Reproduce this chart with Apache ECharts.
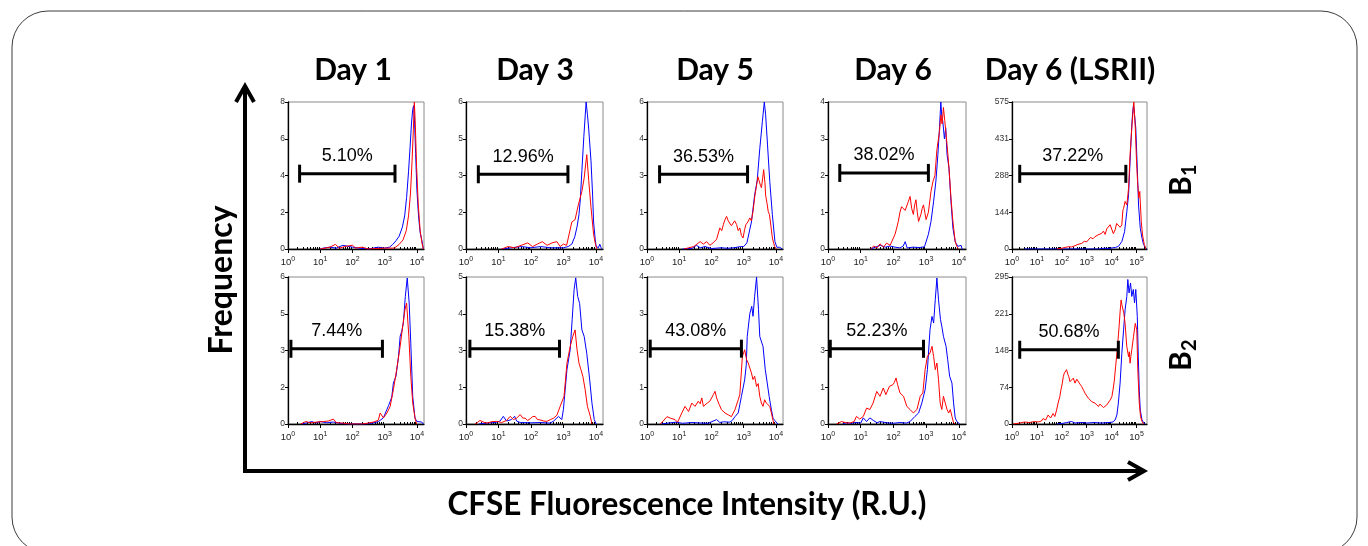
<!DOCTYPE html>
<html>
<head>
<meta charset="utf-8">
<script src="https://cdn.jsdelivr.net/npm/echarts@6/dist/echarts.min.js"></script>
<style>
html,body{margin:0;padding:0;background:#fff;}
#chart{width:1368px;height:546px;}
</style>
</head>
<body>
<div id="chart"></div>
<script>
// ---------------- DATA ----------------
const dayTitles = ['Day 1', 'Day 3', 'Day 5', 'Day 6', 'Day 6 (LSRII)'];
const rowSubscripts = ['1', '2'];
const xMaxDecades = [4.22, 4.22, 4.22, 4.22, 5.42];   // log10 of axis max
const xDecadeTicks4 = [0, 1, 2, 3, 4];
const xDecadeTicks5 = [0, 1, 2, 3, 4, 5];

const yMaxB1 = [8, 6, 6, 4, 575];
const yMaxB2 = [6, 5, 4, 6, 295];
const yLabelsB1 = [['0','2','4','6','8'], ['0','2','3','5','6'], ['0','1','3','4','6'], ['0','1','2','3','4'], ['0','144','288','431','575']];
const yLabelsB2 = [['0','2','3','5','6'], ['0','1','3','4','5'], ['0','1','2','3','4'], ['0','1','3','4','6'], ['0','74','148','221','295']];

const pctB1 = ['5.10%', '12.96%', '36.53%', '38.02%', '37.22%'];
const pctB2 = ['7.44%', '15.38%', '43.08%', '52.23%', '50.68%'];
// gate: [start decade, end decade, height]
const gateB1 = [[0.36, 3.32, 4.1], [0.38, 3.14, 3.05], [0.39, 3.12, 3.05], [0.36, 3.07, 2.07], [0.31, 4.57, 294]];
const gateB2 = [[0.09, 2.93, 3.07], [0.12, 2.88, 2.56], [0.10, 2.93, 2.05], [0.07, 2.92, 3.07], [0.31, 4.27, 149]];

// histograms: [log10 CFSE intensity, count]
const day1B1Blue = [[1.0,0],[1.1,0.05],[1.3,0.1],[1.5,0.05],[1.7,0.2],[1.85,0.15],[2.0,0.1],[2.2,0.05],[2.5,0],[2.8,0.1],[3.0,0.05],[3.15,0.1],[3.25,0.25],[3.35,0.45],[3.45,0.7],[3.55,1.2],[3.62,1.8],[3.68,2.8],[3.74,4.2],[3.79,5.6],[3.83,6.8],[3.87,7.6],[3.9,7.8],[3.93,6.8],[3.96,5.2],[4.0,3.2],[4.05,1.8],[4.1,0.9],[4.15,0.5],[4.2,0]];
const day1B1Red = [[1.0,0],[1.15,0.05],[1.3,0.1],[1.47,0.25],[1.6,0.05],[1.8,0.15],[2.0,0.2],[2.1,0.05],[2.3,0.1],[2.5,0],[3.0,0.05],[3.3,0.05],[3.45,0.25],[3.57,0.5],[3.67,1.0],[3.74,1.8],[3.8,3.0],[3.85,4.8],[3.89,6.5],[3.92,8.0],[3.95,6.8],[3.99,4.5],[4.04,2.5],[4.1,1.0],[4.16,0.3],[4.2,0]];

const day3B1Blue = [[1.1,0],[1.4,0.05],[1.7,0.1],[2.0,0.05],[2.3,0.1],[2.6,0.05],[3.0,0.05],[3.15,0.1],[3.26,0.2],[3.35,0.5],[3.42,0.9],[3.48,1.4],[3.52,2.0],[3.57,3.2],[3.63,4.6],[3.7,6.0],[3.74,5.5],[3.78,4.9],[3.85,3.6],[3.9,2.2],[3.93,1.1],[3.98,0.4],[4.01,0.1],[4.08,0.05],[4.12,0.2],[4.16,0.05],[4.2,0]];
const day3B1Red = [[1.1,0],[1.3,0.1],[1.5,0.05],[1.7,0.15],[1.9,0.25],[2.05,0.1],[2.2,0.2],[2.35,0.3],[2.5,0.15],[2.65,0.25],[2.8,0.3],[2.9,0.1],[3.0,0.2],[3.1,0.15],[3.16,0.2],[3.26,1.1],[3.36,1.2],[3.46,1.8],[3.57,2.35],[3.64,2.9],[3.72,3.85],[3.78,2.8],[3.85,1.7],[3.93,0.6],[3.99,0.18],[4.03,0]];

const day5B1Blue = [[1.1,0],[1.4,0.03],[1.54,0.15],[1.65,0.05],[1.8,0.1],[2.0,0.02],[2.3,0.05],[2.5,0.03],[2.7,0.05],[2.9,0.1],[3.0,0.1],[3.1,0.25],[3.14,0.3],[3.24,1.1],[3.34,2.2],[3.42,2.8],[3.5,4.1],[3.58,5.2],[3.64,6.0],[3.68,5.5],[3.74,4.25],[3.81,2.75],[3.89,1.4],[3.97,0.3],[4.03,0.07],[4.12,0.07],[4.2,0]];
const day5B1Red = [[1.15,0],[1.3,0.05],[1.45,0.1],[1.55,0.2],[1.65,0.3],[1.75,0.2],[1.85,0.3],[1.95,0.15],[2.05,0.25],[2.16,0.4],[2.26,0.86],[2.32,0.75],[2.37,1.0],[2.42,1.2],[2.47,1.33],[2.52,1.15],[2.57,1.2],[2.62,0.95],[2.67,0.9],[2.72,1.15],[2.78,1.0],[2.83,0.75],[2.88,0.86],[2.93,0.55],[2.98,0.45],[3.03,0.8],[3.07,1.0],[3.13,1.1],[3.19,1.27],[3.24,1.15],[3.29,1.54],[3.35,2.2],[3.4,2.6],[3.44,2.95],[3.48,2.9],[3.52,2.6],[3.55,2.5],[3.59,2.9],[3.62,3.24],[3.66,2.7],[3.68,2.2],[3.72,1.9],[3.76,1.54],[3.8,1.4],[3.83,1.1],[3.89,0.45],[3.96,0.1],[4.01,0]];

const day6B1Blue = [[1.3,0],[1.45,0.05],[1.6,0.1],[1.75,0.05],[1.9,0.08],[2.05,0.05],[2.2,0.03],[2.3,0.08],[2.36,0.2],[2.42,0.03],[2.6,0.05],[2.8,0.04],[2.95,0.06],[3.0,0.05],[3.07,0.4],[3.15,0.75],[3.23,1.3],[3.3,1.85],[3.36,2.57],[3.41,3.3],[3.45,4.0],[3.48,3.6],[3.51,3.48],[3.56,3.0],[3.6,3.3],[3.64,2.57],[3.7,2.2],[3.76,1.3],[3.82,0.57],[3.89,0.2],[3.97,0.07],[4.03,0.03],[4.07,0.1],[4.1,0]];
const day6B1Red = [[1.3,0],[1.4,0.08],[1.5,0.03],[1.59,0.14],[1.7,0.05],[1.79,0.16],[1.9,0.1],[2.0,0.3],[2.05,0.4],[2.1,0.57],[2.15,0.75],[2.2,1.0],[2.25,1.15],[2.31,1.2],[2.36,1.05],[2.41,1.1],[2.46,1.3],[2.51,1.43],[2.56,1.1],[2.61,0.94],[2.65,1.2],[2.69,1.34],[2.73,1.0],[2.77,0.75],[2.84,0.94],[2.88,1.1],[2.92,1.2],[2.96,1.0],[3.0,0.8],[3.07,1.0],[3.15,1.57],[3.21,1.84],[3.27,2.0],[3.33,2.7],[3.41,3.2],[3.45,3.65],[3.49,3.4],[3.53,3.85],[3.57,3.5],[3.64,2.84],[3.7,2.2],[3.76,1.39],[3.82,0.75],[3.89,0.2],[3.94,0.07],[3.99,0]];

const lsrB1Blue = [[0.5,0],[0.55,2],[0.6,0],[3.5,0],[3.7,3],[3.9,2],[4.05,5],[4.15,6],[4.27,10],[4.41,29],[4.52,68],[4.61,146],[4.68,212],[4.74,342],[4.81,486],[4.85,540],[4.88,565],[4.92,525],[4.97,473],[5.03,316],[5.08,172],[5.15,81],[5.22,42],[5.28,18],[5.35,6],[5.42,0]];
const lsrB1Red = [[1.8,0],[2.0,3],[2.26,9],[2.4,8],[2.53,13],[2.65,18],[2.8,22],[2.9,30],[3.0,28],[3.06,35],[3.15,45],[3.25,40],[3.33,48],[3.45,55],[3.52,50],[3.6,61],[3.67,70],[3.74,57],[3.8,78],[3.87,75],[3.94,95],[4.01,88],[4.07,60],[4.14,75],[4.2,100],[4.27,107],[4.34,85],[4.41,94],[4.45,150],[4.48,159],[4.54,186],[4.61,172],[4.68,238],[4.74,369],[4.81,473],[4.86,540],[4.89,575],[4.95,473],[5.0,342],[5.04,264],[5.09,199],[5.13,225],[5.19,107],[5.24,55],[5.31,18],[5.38,0]];

const day1B2Blue = [[0.4,0],[0.45,0.07],[0.6,0.05],[0.74,0.1],[0.85,0.04],[1.0,0.1],[1.2,0.05],[1.4,0.08],[1.62,0.03],[1.8,0],[2.4,0],[2.45,0.05],[2.6,0.03],[2.81,0.1],[2.96,0.25],[3.07,0.6],[3.12,0.75],[3.17,0.8],[3.22,1.1],[3.27,1.67],[3.35,1.95],[3.43,2.76],[3.48,3.58],[3.53,3.78],[3.58,4.12],[3.64,5.2],[3.7,5.96],[3.76,4.94],[3.81,3.3],[3.87,1.13],[3.94,0.25],[4.0,0.1],[4.05,0.08],[4.15,0.08],[4.2,0]];
const day1B2Red = [[0.4,0],[0.55,0.1],[0.7,0.05],[0.9,0.08],[1.1,0.1],[1.25,0.12],[1.41,0.2],[1.5,0.05],[1.7,0.04],[1.9,0],[2.3,0],[2.34,0.07],[2.5,0.04],[2.65,0.08],[2.8,0.15],[2.86,0.45],[2.96,0.25],[3.07,0.45],[3.17,0.72],[3.27,1.4],[3.37,2.2],[3.48,3.17],[3.56,4.0],[3.63,4.67],[3.68,4.94],[3.75,3.58],[3.81,1.95],[3.87,0.86],[3.94,0.25],[3.99,0]];

const day3B2Blue = [[0.4,0],[0.6,0.03],[0.9,0.05],[1.05,0.1],[1.15,0.26],[1.25,0.1],[1.4,0.15],[1.5,0.26],[1.56,0.1],[1.67,0.05],[2.0,0.04],[2.3,0.05],[2.59,0.03],[2.7,0.1],[2.85,0.26],[2.95,0.15],[3.0,0.49],[3.11,1.85],[3.21,2.53],[3.27,3.55],[3.33,4.57],[3.38,4.97],[3.44,4.34],[3.5,4.1],[3.57,3.2],[3.64,2.98],[3.72,2.4],[3.81,1.5],[3.88,0.71],[3.95,0.15],[4.01,0]];
const day3B2Red = [[0.28,0],[0.35,0.05],[0.43,0.12],[0.55,0.06],[0.64,0.03],[0.8,0.08],[0.95,0.09],[1.1,0.05],[1.25,0.12],[1.36,0.26],[1.46,0.15],[1.56,0.2],[1.67,0.32],[1.75,0.2],[1.82,0.2],[1.9,0.12],[1.98,0.18],[2.05,0.25],[2.13,0.26],[2.2,0.15],[2.28,0.14],[2.4,0.1],[2.49,0.09],[2.6,0.15],[2.7,0.2],[2.8,0.3],[2.9,0.6],[3.02,0.94],[3.11,2.07],[3.21,2.64],[3.29,2.98],[3.36,3.2],[3.42,2.53],[3.48,2.07],[3.54,1.85],[3.6,1.62],[3.67,1.17],[3.74,0.6],[3.83,0.26],[3.88,0]];

const day5B2Blue = [[0.45,0],[0.5,0.05],[0.7,0.03],[0.9,0.05],[1.1,0.02],[1.4,0.04],[1.6,0.03],[1.9,0.02],[2.16,0.12],[2.26,0.04],[2.37,0.06],[2.57,0.05],[2.65,0.1],[2.73,0.2],[2.83,0.3],[2.93,0.75],[3.03,1.2],[3.08,1.6],[3.11,2.38],[3.19,3.0],[3.25,3.2],[3.29,2.93],[3.34,3.47],[3.4,4.0],[3.46,3.11],[3.5,2.38],[3.55,2.43],[3.6,2.11],[3.67,1.48],[3.73,1.12],[3.79,0.75],[3.86,0.39],[3.91,0.16],[3.96,0.1],[4.01,0.1],[4.06,0]];
const day5B2Red = [[0.41,0],[0.5,0.08],[0.62,0.2],[0.72,0.16],[0.87,0.12],[0.95,0.05],[1.08,0.3],[1.18,0.48],[1.29,0.34],[1.39,0.57],[1.49,0.48],[1.59,0.62],[1.65,0.55],[1.7,0.71],[1.75,0.48],[1.87,0.57],[1.95,0.62],[2.06,0.8],[2.11,0.89],[2.16,0.71],[2.24,0.53],[2.31,0.39],[2.42,0.3],[2.52,0.25],[2.62,0.2],[2.73,0.39],[2.83,0.66],[2.88,0.8],[2.96,1.84],[3.03,2.02],[3.09,1.75],[3.14,1.66],[3.19,1.66],[3.24,1.39],[3.29,1.21],[3.34,1.3],[3.4,1.02],[3.45,1.1],[3.5,0.75],[3.55,0.57],[3.6,0.48],[3.65,0.66],[3.7,0.57],[3.76,0.53],[3.81,0.48],[3.86,0.3],[3.91,0.1],[3.94,0]];

const day6B2Blue = [[0.45,0],[0.55,0.05],[0.7,0.03],[0.85,0.06],[1.0,0.04],[1.08,0.25],[1.18,0.1],[1.28,0.25],[1.38,0.15],[1.5,0.05],[1.59,0.1],[1.8,0.05],[2.0,0.03],[2.2,0.06],[2.4,0.04],[2.51,0.1],[2.66,0.31],[2.77,0.45],[2.87,0.86],[2.97,1.4],[3.04,2.22],[3.12,3.85],[3.18,4.39],[3.23,4.12],[3.28,5.07],[3.33,5.96],[3.38,5.07],[3.44,4.26],[3.48,3.99],[3.53,3.58],[3.61,3.17],[3.66,2.63],[3.72,1.95],[3.79,1.67],[3.84,0.86],[3.89,0.25],[3.94,0.1],[4.03,0]];
const day6B2Red = [[0.26,0],[0.41,0.1],[0.55,0.05],[0.67,0.04],[0.8,0.1],[0.87,0.31],[0.97,0.2],[1.08,0.31],[1.18,0.65],[1.28,0.59],[1.38,0.86],[1.49,1.33],[1.59,1.13],[1.69,1.47],[1.77,1.2],[1.88,1.54],[1.98,1.6],[2.03,1.7],[2.08,1.88],[2.13,1.6],[2.2,1.27],[2.31,1.13],[2.41,0.72],[2.51,0.59],[2.61,0.45],[2.72,0.59],[2.82,1.13],[2.9,1.27],[2.97,2.22],[3.04,2.76],[3.12,2.9],[3.18,3.17],[3.23,2.76],[3.28,2.22],[3.33,2.49],[3.38,1.81],[3.43,0.86],[3.48,0.59],[3.53,1.13],[3.59,1.13],[3.64,0.59],[3.69,0.45],[3.74,0.59],[3.79,0.31],[3.84,0.05],[3.89,0]];

const lsrB2Blue = [[1.8,0],[2.0,1],[2.2,3],[2.39,5],[2.53,2],[2.8,3],[3.0,2],[3.3,3],[3.6,2],[3.9,3],[4.05,4],[4.14,8],[4.21,18],[4.27,42],[4.34,82],[4.41,142],[4.48,189],[4.54,229],[4.61,256],[4.65,290],[4.7,263],[4.76,283],[4.81,256],[4.87,270],[4.92,243],[4.97,270],[5.03,216],[5.07,135],[5.11,68],[5.15,28],[5.22,8],[5.28,3],[5.35,0]];
const lsrB2Red = [[0.05,0],[0.1,3],[0.3,2],[0.5,4],[0.7,3],[0.9,5],[1.05,4],[1.18,6],[1.25,11],[1.35,8],[1.45,18],[1.55,12],[1.65,21],[1.72,15],[1.79,28],[1.85,42],[1.92,55],[1.97,70],[2.02,82],[2.06,95],[2.1,102],[2.15,98],[2.19,109],[2.24,100],[2.28,95],[2.33,85],[2.39,88],[2.46,92],[2.53,82],[2.6,90],[2.66,88],[2.73,80],[2.8,75],[2.87,68],[2.93,62],[3.0,58],[3.06,52],[3.13,50],[3.2,45],[3.27,48],[3.33,42],[3.4,38],[3.47,35],[3.53,40],[3.6,38],[3.67,33],[3.74,35],[3.8,38],[3.87,42],[3.94,48],[4.01,55],[4.06,70],[4.11,88],[4.16,115],[4.21,142],[4.26,170],[4.3,196],[4.34,225],[4.38,249],[4.41,240],[4.44,243],[4.49,222],[4.54,202],[4.58,175],[4.61,155],[4.68,135],[4.71,145],[4.74,122],[4.77,135],[4.81,149],[4.88,176],[4.95,202],[5.01,189],[5.05,109],[5.11,42],[5.16,15],[5.22,5],[5.28,0]];

const blueB1 = [day1B1Blue, day3B1Blue, day5B1Blue, day6B1Blue, lsrB1Blue];
const redB1 = [day1B1Red, day3B1Red, day5B1Red, day6B1Red, lsrB1Red];
const blueB2 = [day1B2Blue, day3B2Blue, day5B2Blue, day6B2Blue, lsrB2Blue];
const redB2 = [day1B2Red, day3B2Red, day5B2Red, day6B2Red, lsrB2Red];

// ---------------- LAYOUT ----------------
const colLeft = [288, 466, 647, 828, 1012];
const colWidth = [136, 137, 136, 138, 135];
const rowTop = [102, 277];
const panelH = 147;
const titleCx = [353, 535, 715, 893, 1070];

const chart = echarts.init(document.getElementById('chart'), null, {renderer: 'canvas'});

const grids = [], xAxes = [], yAxes = [], series = [];
const rows = [
  {yMax: yMaxB1, yLabels: yLabelsB1, pct: pctB1, gate: gateB1, blue: blueB1, red: redB1},
  {yMax: yMaxB2, yLabels: yLabelsB2, pct: pctB2, gate: gateB2, blue: blueB2, red: redB2}
];
const supRich = {
  b: {fontSize: 9.5, color: '#222', fontFamily: 'Liberation Sans', lineHeight: 11},
  s: {fontSize: 7, color: '#222', fontFamily: 'Liberation Sans', lineHeight: 7, padding: [0, 0, 6, 0]}
};

rows.forEach((row, r) => {
  for (let c = 0; c < 5; c++) {
    const gi = r * 5 + c;
    const xm = xMaxDecades[c];
    const majors = c === 4 ? xDecadeTicks5 : xDecadeTicks4;
    const minors = [];
    majors.forEach(d => { for (let k = 2; k <= 9; k++) { const v = d + Math.log10(k); if (v < xm) minors.push(v); } });
    const M = row.yMax[c];
    const labels = row.yLabels[c];
    grids.push({left: colLeft[c], top: rowTop[r], width: colWidth[c], height: panelH,
      show: true, borderColor: '#8a8a8a', borderWidth: 1, backgroundColor: 'transparent'});
    xAxes.push({gridIndex: gi, type: 'value', min: 0, max: xm,
      axisLine: {show: true, onZero: false, lineStyle: {color: '#000', width: 1.3}},
      axisTick: {show: true, customValues: majors, length: 4, lineStyle: {color: '#000'}},
      axisLabel: {customValues: majors, margin: 8, formatter: v => '{b|10}{s|' + v + '}', rich: supRich},
      splitLine: {show: false}});
    xAxes.push({gridIndex: gi, type: 'value', min: 0, max: xm,
      axisLine: {show: false}, axisLabel: {show: false}, splitLine: {show: false},
      axisTick: {show: true, customValues: minors, length: 2, lineStyle: {color: '#000'}}});
    yAxes.push({gridIndex: gi, type: 'value', min: 0, max: M, interval: M / 4,
      axisLine: {show: true, onZero: false, lineStyle: {color: '#000', width: 1.3}},
      axisTick: {show: true, length: 3, lineStyle: {color: '#000'}},
      axisLabel: {fontSize: 8.5, color: '#333', fontFamily: 'Liberation Sans', margin: 3,
        formatter: v => labels[Math.round(v / (M / 4))]},
      splitLine: {show: false}});
    const common = {xAxisIndex: gi * 2, yAxisIndex: gi, silent: true, animation: false};
    series.push(Object.assign({type: 'line', data: row.blue[c], showSymbol: false, symbol: 'none',
      lineStyle: {color: '#0000ff', width: 1}, z: 2}, common));
    series.push(Object.assign({type: 'line', data: row.red[c], showSymbol: false, symbol: 'none',
      lineStyle: {color: '#ff0000', width: 1}, z: 3}, common));
    const g = row.gate[c];
    series.push(Object.assign({type: 'line', data: [[g[0], g[2]], [g[1], g[2]]], symbol: 'rect',
      symbolSize: [3, 18], showSymbol: true, itemStyle: {color: '#000'},
      lineStyle: {color: '#000', width: 3}, z: 5}, common));
    series.push(Object.assign({type: 'scatter', data: [[(g[0] + g[1]) / 2, g[2]]], symbolSize: 1,
      itemStyle: {color: 'rgba(0,0,0,0)'}, z: 6,
      label: {show: true, position: 'top', distance: 8, formatter: row.pct[c],
        fontSize: 18, color: '#000', fontFamily: 'Liberation Sans', opacity: 1}}, common));
  }
});

const graphics = [
  {type: 'rect', shape: {x: 12, y: 11, width: 1345, height: 542, r: 36}, style: {fill: 'none', stroke: '#3c3c3c', lineWidth: 1}, silent: true},
  // axes arrows
  {type: 'polyline', shape: {points: [[245, 473], [245, 87]]}, style: {stroke: '#000', lineWidth: 4, fill: 'none'}},
  {type: 'polyline', shape: {points: [[236, 102], [245, 86], [254, 102]]}, style: {stroke: '#000', lineWidth: 4, fill: 'none', lineJoin: 'miter'}},
  {type: 'polyline', shape: {points: [[243, 471], [1143, 471]]}, style: {stroke: '#000', lineWidth: 4, fill: 'none'}},
  {type: 'polyline', shape: {points: [[1128, 462], [1144, 471], [1128, 480]]}, style: {stroke: '#000', lineWidth: 4, fill: 'none', lineJoin: 'miter'}},
  {type: 'text', x: 222, y: 280, rotation: Math.PI / 2,
    style: {text: 'Frequency', font: 'bold 32px Lato', fill: '#000', align: 'center', verticalAlign: 'middle'}},
  {type: 'text', x: 687, y: 505,
    style: {text: 'CFSE Fluorescence Intensity (R.U.)', font: 'bold 31.5px Lato', fill: '#000', align: 'center', verticalAlign: 'middle'}}
];
dayTitles.forEach((t, c) => {
  graphics.push({type: 'text', x: titleCx[c], y: 70,
    style: {text: t, font: 'bold 30px Lato', fill: '#000', align: 'center', verticalAlign: 'middle'}});
});
const bRowCy = [186, 361];
rowSubscripts.forEach((s, r) => {
  graphics.push({type: 'group', x: 1181, y: bRowCy[r], rotation: Math.PI / 2, children: [
    {type: 'text', x: 0, y: 0, style: {text: 'B', font: 'bold 30px Lato', fill: '#000', align: 'center', verticalAlign: 'middle'}},
    {type: 'text', x: 10, y: 9, style: {text: s, font: 'bold 20px Lato', fill: '#000', align: 'left', verticalAlign: 'middle'}}
  ]});
});

chart.setOption({
  animation: false,
  backgroundColor: '#fff',
  grid: grids,
  xAxis: xAxes,
  yAxis: yAxes,
  series: series,
  graphic: graphics
});
</script>
</body>
</html>
